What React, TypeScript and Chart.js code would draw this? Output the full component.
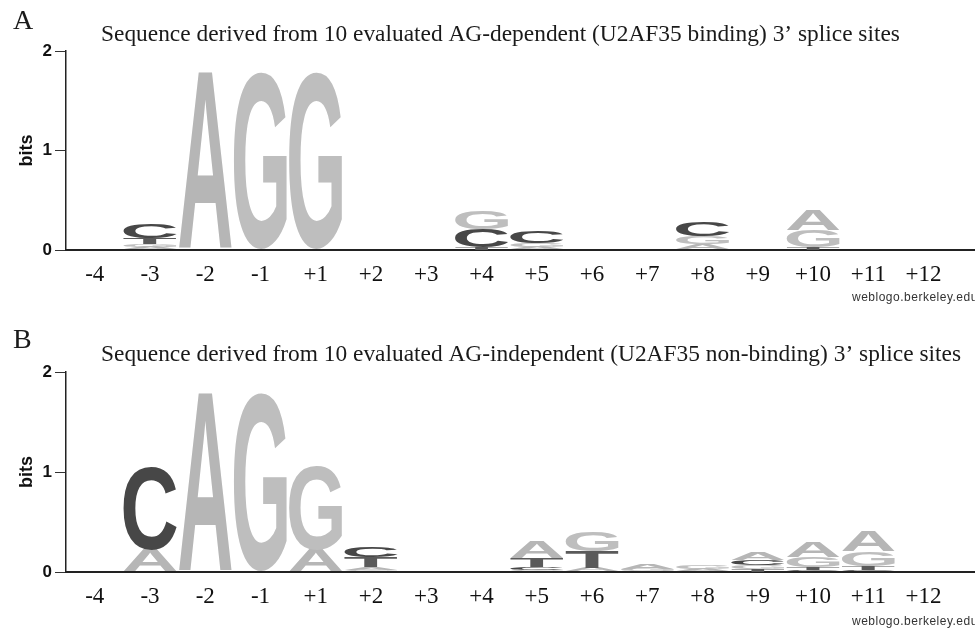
import React, { useEffect, useRef } from "react";
import { Chart, registerables } from "chart.js";

Chart.register(...registerables);

// ---------- data ----------
const positions = ["-4", "-3", "-2", "-1", "+1", "+2", "+3", "+4", "+5", "+6", "+7", "+8", "+9", "+10", "+11", "+12"];
const bases = ["A", "C", "G", "T"];
const yTicks = [0, 1, 2];

// Panel A: AG-dependent (bits per base, per position)
const dependentA = [0, 0.03, 1.78, 0, 0, 0, 0, 0, 0.03, 0, 0, 0.06, 0, 0.21, 0, 0];
const dependentC = [0, 0.15, 0, 0, 0, 0, 0, 0.18, 0.12, 0, 0, 0.14, 0, 0, 0, 0];
const dependentG = [0, 0.03, 0, 1.78, 1.78, 0, 0, 0.19, 0.04, 0, 0, 0.08, 0, 0.17, 0, 0];
const dependentT = [0, 0.06, 0, 0, 0, 0, 0, 0.03, 0, 0, 0, 0, 0, 0.03, 0, 0];

// Panel B: AG-independent
const independentA = [0, 0.22, 1.78, 0, 0.22, 0.03, 0, 0, 0.16, 0.04, 0.05, 0.03, 0.08, 0.15, 0.2, 0];
const independentC = [0, 0.83, 0, 0, 0, 0.11, 0, 0, 0.03, 0, 0, 0, 0.05, 0.02, 0.02, 0];
const independentG = [0, 0, 0, 1.78, 0.84, 0.02, 0, 0, 0.02, 0.2, 0.03, 0.04, 0.04, 0.1, 0.15, 0];
const independentT = [0, 0, 0, 0, 0, 0.1, 0, 0, 0.09, 0.17, 0, 0, 0.03, 0.03, 0.04, 0];

const titleA = "Sequence derived from 10 evaluated AG-dependent (U2AF35 binding) 3\u2019 splice sites";
const titleB = "Sequence derived from 10 evaluated AG-independent (U2AF35 non-binding) 3\u2019 splice sites";
const credit = "weblogo.berkeley.edu";

// ---------- styles ----------
const letterColors: Record<string, string> = {
  A: "#b6b6b6",
  C: "#474747",
  G: "#bebebe",
  T: "#5a5a5a",
};

function buildLayers(cols: Record<string, number[]>) {
  const stacks = positions.map((_, i) =>
    bases
      .map((b) => ({ b, h: cols[b][i] }))
      .filter((e) => e.h > 0)
      .sort((p, q) => p.h - q.h)
  );
  const depth = Math.max(...stacks.map((s) => s.length));
  const layers: any[] = [];
  for (let k = 0; k < depth; k++) {
    layers.push({
      data: stacks.map((s, i) => ({ x: i, y: s[k] ? s[k].h : 0 })),
      letters: stacks.map((s) => (s[k] ? s[k].b : "")),
      backgroundColor: "rgba(0,0,0,0)",
      borderWidth: 0,
      barPercentage: 0.96,
      categoryPercentage: 1,
    });
  }
  return layers;
}

function drawGlyph(ctx: CanvasRenderingContext2D, letter: string, x0: number, y0: number, w: number, h: number, color: string) {
  ctx.save();
  ctx.font = 'bold 200px "Liberation Sans"';
  ctx.textAlign = "left";
  ctx.textBaseline = "alphabetic";
  const m = ctx.measureText(letter);
  const gw = m.actualBoundingBoxLeft + m.actualBoundingBoxRight;
  const gh = m.actualBoundingBoxAscent + m.actualBoundingBoxDescent;
  ctx.translate(x0, y0);
  ctx.scale(w / gw, h / gh);
  ctx.fillStyle = color;
  ctx.fillText(letter, m.actualBoundingBoxLeft, m.actualBoundingBoxAscent);
  ctx.restore();
}

const logoPlugin = {
  id: "logoLetters",
  afterDatasetsDraw(chart: any) {
    const ctx = chart.ctx;
    chart.data.datasets.forEach((ds: any, di: number) => {
      const meta = chart.getDatasetMeta(di);
      meta.data.forEach((el: any, i: number) => {
        const letter = ds.letters[i];
        if (!letter) return;
        const { x, y, base, width } = el.getProps(["x", "y", "base", "width"], true);
        const h = base - y;
        if (h < 0.5) return;
        drawGlyph(ctx, letter, x - width / 2, y, width, h, letterColors[letter]);
      });
    });
  },
};

const textPlugin = {
  id: "panelText",
  afterDraw(chart: any) {
    const o = chart.options.plugins.panelText;
    const ctx = chart.ctx;
    ctx.save();
    ctx.fillStyle = "#1a1a1a";
    ctx.textBaseline = "middle";
    ctx.textAlign = "left";
    ctx.font = '28px "Liberation Serif"';
    ctx.fillText(o.letter, o.letterX, o.letterY);
    ctx.font = '23.4px "Liberation Serif"';
    ctx.fillText(o.title, o.titleX, o.titleY);
    ctx.font = '12px "Liberation Sans"';
    (ctx as any).letterSpacing = "0.5px";
    ctx.fillStyle = "#333";
    ctx.fillText(credit, o.creditX, o.creditY);
    ctx.restore();
  },
};

type PanelCfg = {
  cols: Record<string, number[]>;
  letter: string;
  title: string;
  padTop: number;
  xAxisHeight: number;
  letterY: number;
  titleY: number;
  creditY: number;
};

function LogoPanel({ cfg }: { cfg: PanelCfg }) {
  const ref = useRef<HTMLCanvasElement | null>(null);
  useEffect(() => {
    if (!ref.current) return;
    const chart = new Chart(ref.current, {
      type: "bar",
      data: { datasets: buildLayers(cfg.cols) as any },
      options: {
        animation: false,
        responsive: false,
        events: [],
        layout: { padding: { top: cfg.padTop, left: 0, right: 0, bottom: 0 } },
        plugins: {
          legend: { display: false },
          tooltip: { enabled: false },
          panelText: {
            letter: cfg.letter,
            letterX: 13,
            letterY: cfg.letterY,
            title: cfg.title,
            titleX: 101,
            titleY: cfg.titleY,
            creditX: 852,
            creditY: cfg.creditY,
          },
        } as any,
        scales: {
          x: {
            type: "linear",
            stacked: true,
            offset: false,
            min: -0.52,
            max: 15.93,
            grid: { display: false, drawTicks: false },
            border: { display: true, color: "#222", width: 2 },
            afterBuildTicks: (scale: any) => {
              scale.ticks = positions.map((_, i) => ({ value: i }));
            },
            afterFit: (scale: any) => {
              scale.height = cfg.xAxisHeight;
            },
            ticks: {
              autoSkip: false,
              maxRotation: 0,
              minRotation: 0,
              padding: 11,
              color: "#111",
              font: { family: '"Liberation Serif"', size: 23 },
              callback: (_v: any, i: number) => positions[i],
            },
          },
          y: {
            type: "linear",
            stacked: true,
            min: 0,
            max: 2,
            afterBuildTicks: (scale: any) => {
              scale.ticks = yTicks.map((v) => ({ value: v }));
            },
            afterFit: (scale: any) => {
              scale.width = 66;
            },
            grid: { display: true, drawOnChartArea: false, drawTicks: true, tickLength: 11, color: "#333", lineWidth: 1 },
            border: { display: true, color: "#222", width: 1.5 },
            ticks: {
              padding: 3,
              color: "#111",
              font: { family: '"Liberation Sans"', size: 17, weight: "bold" },
              callback: (v: any) => String(v),
            },
            title: {
              display: true,
              text: "bits",
              color: "#111",
              font: { family: '"Liberation Sans"', size: 18, weight: "bold" },
              padding: { top: 16, bottom: 0 },
            },
          },
        },
      },
      plugins: [logoPlugin, textPlugin],
    } as any);
    return () => chart.destroy();
  }, []);
  return <canvas ref={ref} width={975} height={314} style={{ display: "block", width: 975, height: 314 }} />;
}

const panelA: PanelCfg = {
  cols: { A: dependentA, C: dependentC, G: dependentG, T: dependentT },
  letter: "A",
  title: titleA,
  padTop: 51,
  xAxisHeight: 64,
  letterY: 22,
  titleY: 35,
  creditY: 298,
};

const panelB: PanelCfg = {
  cols: { A: independentA, C: independentC, G: independentG, T: independentT },
  letter: "B",
  title: titleB,
  padTop: 58,
  xAxisHeight: 56,
  letterY: 27,
  titleY: 41,
  creditY: 308,
};

export default function App() {
  return (
    <div style={{ position: "absolute", left: 0, top: 0, width: 975, height: 628, background: "#fff", overflow: "hidden" }}>
      <LogoPanel cfg={panelA} />
      <LogoPanel cfg={panelB} />
    </div>
  );
}
